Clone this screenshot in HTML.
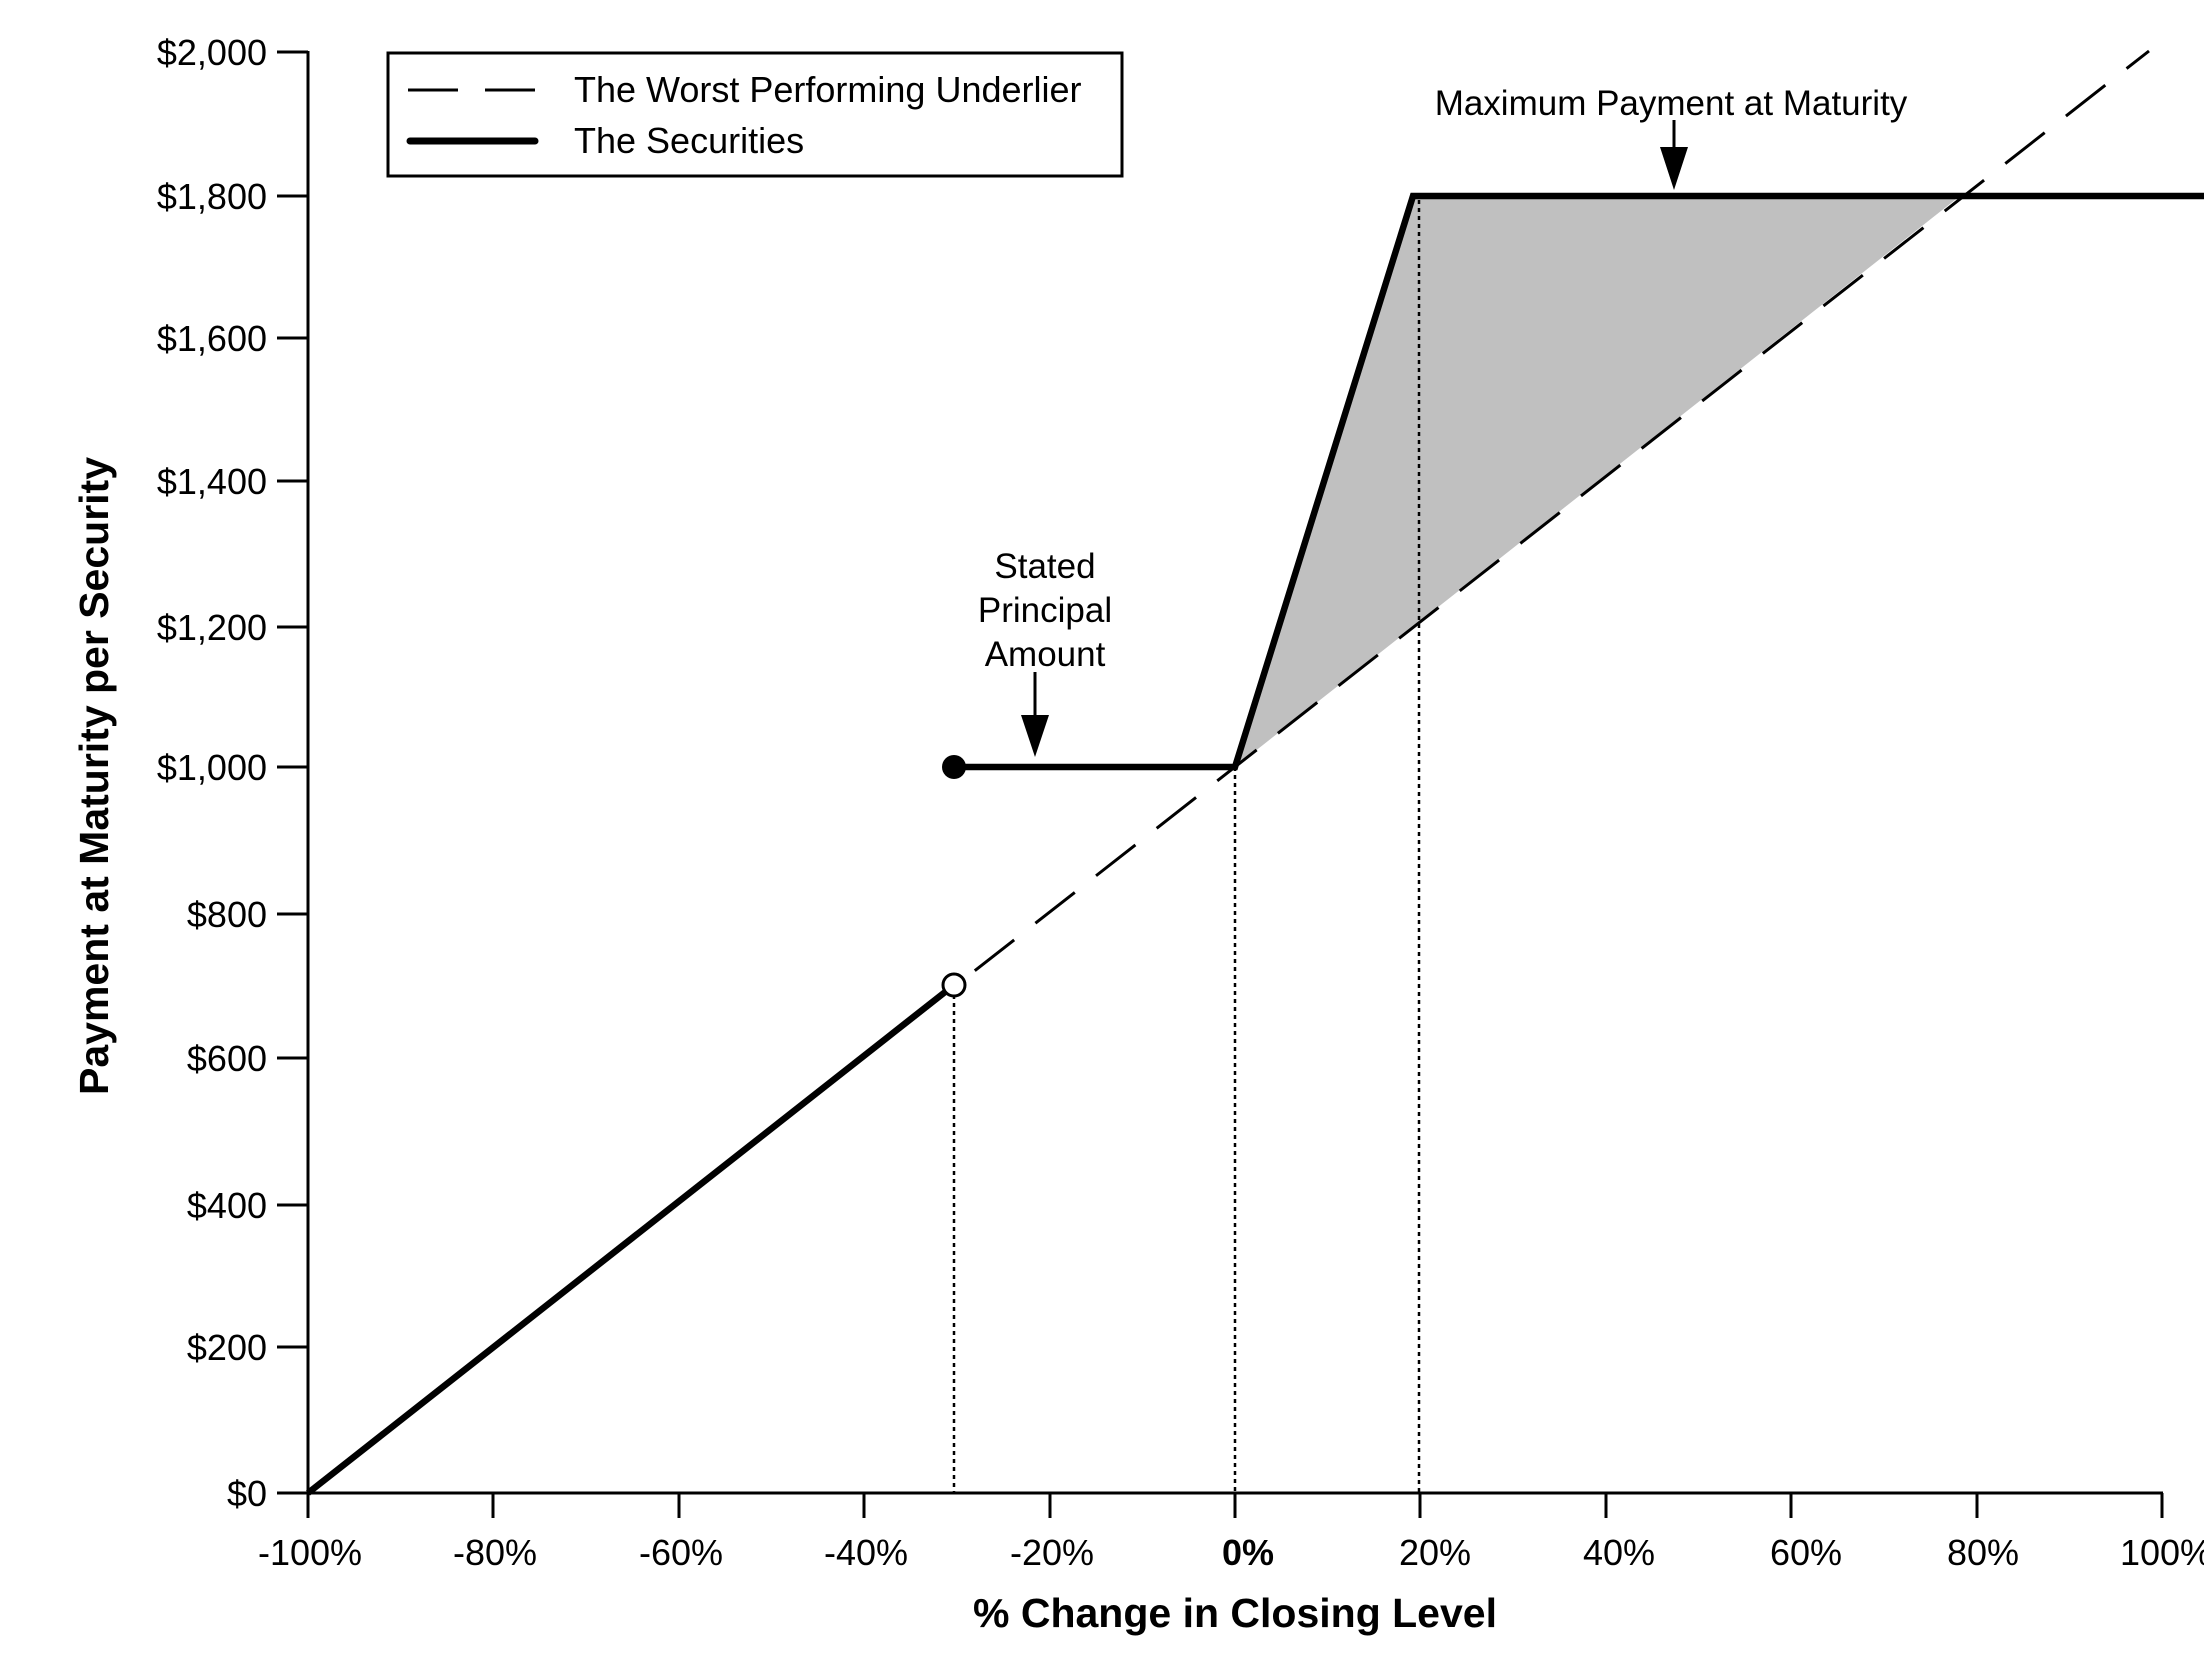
<!DOCTYPE html>
<html><head><meta charset="utf-8"><style>
html,body{margin:0;padding:0;background:#fff;}
svg{display:block;}
text{font-family:"Liberation Sans",Arial,sans-serif;fill:#000;}
</style></head><body>
<svg width="2204" height="1664" viewBox="0 0 2204 1664" xmlns="http://www.w3.org/2000/svg">
<polygon points="1235,767 1413,196 1960,196" fill="#c0c0c0"/>
<g stroke="#000" stroke-width="2.5" stroke-dasharray="4,4">
<line x1="954" y1="995" x2="954" y2="1493"/>
<line x1="1235" y1="767" x2="1235" y2="1493"/>
<line x1="1419" y1="200" x2="1419" y2="1493"/>
</g>
<line x1="308" y1="1493" x2="2149" y2="51" stroke="#000" stroke-width="3" stroke-dasharray="50,27"/>
<g stroke="#000" stroke-width="3">
<line x1="308" y1="51" x2="308" y2="1493"/>
<line x1="308" y1="1493" x2="2163" y2="1493"/>
<line x1="277" y1="52" x2="308" y2="52"/>
<line x1="277" y1="196" x2="308" y2="196"/>
<line x1="277" y1="338" x2="308" y2="338"/>
<line x1="277" y1="481" x2="308" y2="481"/>
<line x1="277" y1="627" x2="308" y2="627"/>
<line x1="277" y1="767" x2="308" y2="767"/>
<line x1="277" y1="914" x2="308" y2="914"/>
<line x1="277" y1="1058" x2="308" y2="1058"/>
<line x1="277" y1="1205" x2="308" y2="1205"/>
<line x1="277" y1="1347" x2="308" y2="1347"/>
<line x1="277" y1="1493" x2="308" y2="1493"/>
<line x1="308" y1="1493" x2="308" y2="1518"/>
<line x1="493" y1="1493" x2="493" y2="1518"/>
<line x1="679" y1="1493" x2="679" y2="1518"/>
<line x1="864" y1="1493" x2="864" y2="1518"/>
<line x1="1050" y1="1493" x2="1050" y2="1518"/>
<line x1="1235" y1="1493" x2="1235" y2="1518"/>
<line x1="1420" y1="1493" x2="1420" y2="1518"/>
<line x1="1606" y1="1493" x2="1606" y2="1518"/>
<line x1="1791" y1="1493" x2="1791" y2="1518"/>
<line x1="1977" y1="1493" x2="1977" y2="1518"/>
<line x1="2162" y1="1493" x2="2162" y2="1518"/>
</g>
<g stroke="#000" stroke-width="6.5" fill="none" stroke-linejoin="miter">
<line x1="308" y1="1493" x2="954" y2="985"/>
<polyline points="954,767 1235,767 1413,196 2204,196"/>
</g>
<circle cx="954" cy="767" r="12" fill="#000"/>
<circle cx="954" cy="985" r="11" fill="#fff" stroke="#000" stroke-width="3"/>
<line x1="1035" y1="672" x2="1035" y2="720" stroke="#000" stroke-width="3"/>
<polygon points="1021,715 1049,715 1035,757" fill="#000"/>
<line x1="1674" y1="120" x2="1674" y2="150" stroke="#000" stroke-width="3"/>
<polygon points="1660,147 1688,147 1674,190" fill="#000"/>
<g font-size="35" text-anchor="middle">
<text x="1045" y="578">Stated</text>
<text x="1045" y="622">Principal</text>
<text x="1045" y="666">Amount</text>
<text x="1671" y="115">Maximum Payment at Maturity</text>
</g>
<g font-size="36" text-anchor="end">
<text x="267" y="65">$2,000</text>
<text x="267" y="209">$1,800</text>
<text x="267" y="351">$1,600</text>
<text x="267" y="494">$1,400</text>
<text x="267" y="640">$1,200</text>
<text x="267" y="780">$1,000</text>
<text x="267" y="927">$800</text>
<text x="267" y="1071">$600</text>
<text x="267" y="1218">$400</text>
<text x="267" y="1360">$200</text>
<text x="267" y="1506">$0</text>
</g>
<g font-size="36" text-anchor="middle">
<text x="310" y="1565">-100%</text>
<text x="495" y="1565">-80%</text>
<text x="681" y="1565">-60%</text>
<text x="866" y="1565">-40%</text>
<text x="1052" y="1565">-20%</text>
<text x="1248" y="1565" font-weight="bold">0%</text>
<text x="1435" y="1565">20%</text>
<text x="1619" y="1565">40%</text>
<text x="1806" y="1565">60%</text>
<text x="1983" y="1565">80%</text>
<text x="2166" y="1565">100%</text>
</g>
<text x="1235" y="1627" font-size="41" font-weight="bold" text-anchor="middle">% Change in Closing Level</text>
<text transform="translate(108,776) rotate(-90)" font-size="41" font-weight="bold" text-anchor="middle">Payment at Maturity per Security</text>
<rect x="388" y="53" width="734" height="123" fill="#fff" stroke="#000" stroke-width="3"/>
<line x1="408" y1="90" x2="535" y2="90" stroke="#000" stroke-width="3" stroke-dasharray="50,27"/>
<line x1="410" y1="141" x2="535" y2="141" stroke="#000" stroke-width="7" stroke-linecap="round"/>
<text x="574" y="102" font-size="36">The Worst Performing Underlier</text>
<text x="574" y="153" font-size="36">The Securities</text>
</svg>
</body></html>
